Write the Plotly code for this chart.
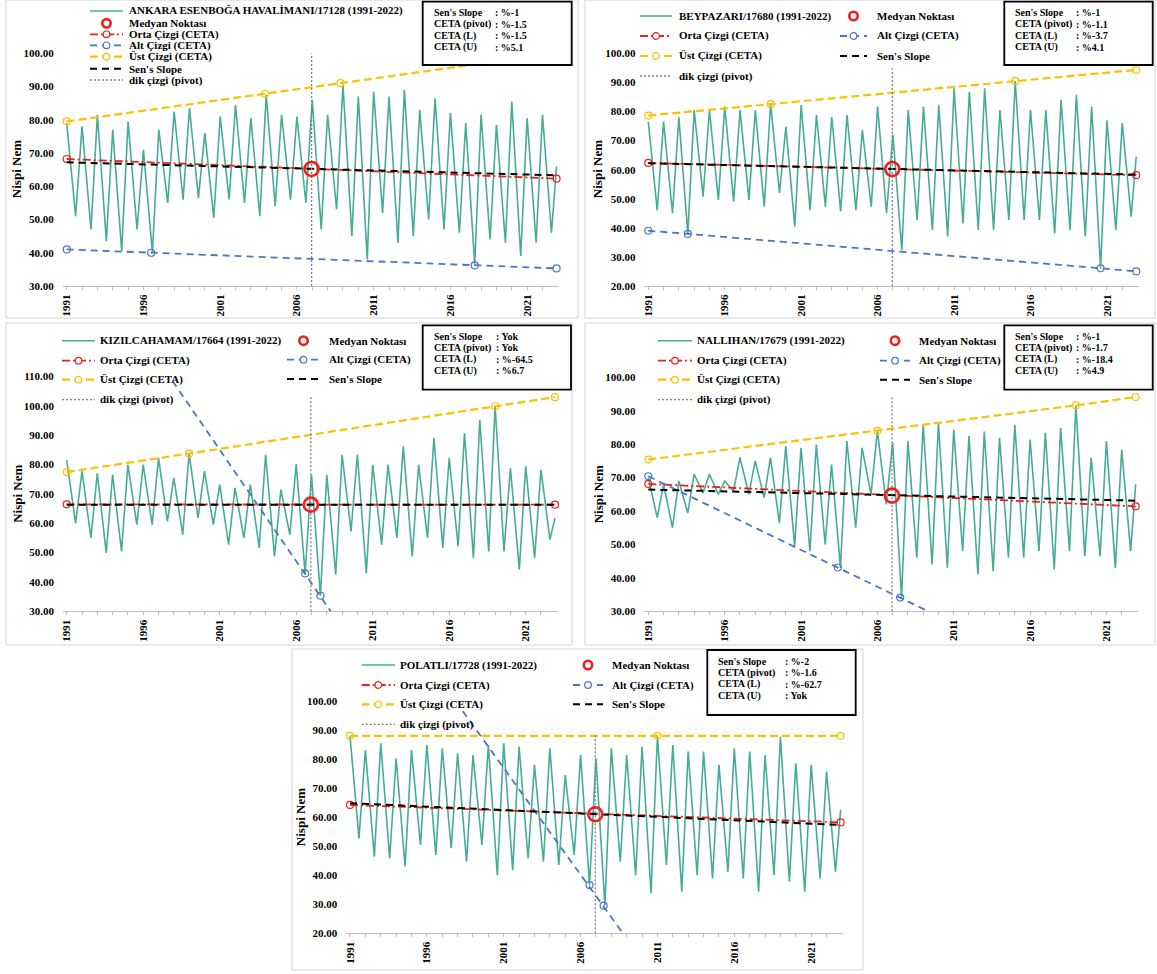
import plotly.graph_objects as go

W, H = 1157, 974
SERIF = "Liberation Serif"
TEAL = "#45ac97"
RED = "#f21d1d"
BLUE = "#4a76c6"
GOLD = "#ffc000"
BLACK = "#000000"
GREY = "#808080"
FRAME = "#d4d4d4"

# ========== DATA ==========
years = list(range(1991, 2023))
label_years = [1991, 1996, 2001, 2006, 2011, 2016, 2021]
pivot = 191.5        # month index of the pivot (middle of 384 months)
last_month = 383     # Dec 2022
peak_month = 0       # winter high (Jan)
low_month = 7        # summer low (Aug)

stat_labels = ["Sen's Slope", "CETA (pivot)", "CETA (L)", "CETA (U)"]

# ----- Ankara Esenboğa -----
ankara_name = "ANKARA ESENBOĞA HAVALİMANI/17128 (1991-2022)"
ankara_peaks = [79, 78, 81.5, 77, 79.5, 71, 77, 82.5, 83.5, 76, 81, 84.5, 80.5, 87.5, 81.5, 81,
                86, 81.5, 90.5, 87, 88.5, 87, 89, 83, 86.5, 82, 79, 81.5, 78.5, 85.5, 80.5, 81.5]
ankara_lows = [51, 47, 43.5, 40.5, 47, 40, 55, 56, 56.5, 50.5, 56, 55, 51, 54, 56, 55,
               47, 53, 45, 38, 52, 43, 45, 50, 47, 46, 36.3, 44, 43, 39, 43, 46]
ankara_last = 66
ankara_median = 65.2
ankara_orta = [68.2, 62.3]
ankara_sen = [67.2, 63.3]
ankara_alt_m = [0, 66, 319, 383]
ankara_alt_v = [41.0, 40.0, 36.2, 35.3]
ankara_alt_pm = [0, 66, 319, 383]
ankara_alt_pv = [41.0, 40.0, 36.2, 35.3]
ankara_ust_m = [0, 155, 214, 383]
ankara_ust_v = [79.5, 87.8, 91.0, 100.1]
ankara_dik = [30, 100]
ankara_stats = [": %-1", ": %-1.5", ": %-1.5", ": %5.1"]

# ----- Beypazarı -----
beypazari_name = "BEYPAZARI/17680 (1991-2022)"
beypazari_peaks = [76.5, 76.5, 78, 80.5, 80.5, 81.7, 80.5, 80.5, 82.5, 74.8, 82.2, 78.8, 78.2, 78.8, 73.6, 81.7,
                   72, 80.5, 81.7, 82.2, 88, 86.8, 88, 80.5, 90.5, 80.5, 80.5, 84, 85.7, 81.7, 77, 76]
beypazari_lows = [46, 45, 37.9, 50.7, 49.6, 49, 49.6, 47.3, 52, 40.4, 46.1, 47.3, 45.6, 46, 47.3, 45,
                  32.3, 42.7, 39.3, 37, 41.5, 39.3, 39.3, 42.7, 42.7, 42.7, 38.1, 39.3, 37, 26, 39.3, 43.8]
beypazari_last = 64.5
beypazari_median = 60.2
beypazari_orta = [62.3, 58.1]
beypazari_sen = [62.2, 58.3]
beypazari_alt_m = [0, 31, 355, 383]
beypazari_alt_v = [39.0, 37.9, 26.1, 25.0]
beypazari_alt_pm = [0, 31, 355, 383]
beypazari_alt_pv = [39.0, 37.9, 26.1, 25.0]
beypazari_ust_m = [0, 96, 288, 383]
beypazari_ust_v = [78.6, 82.5, 90.5, 94.3]
beypazari_dik = [20, 94.8]
beypazari_stats = [": %-1", ": %-1.1", ": %-3.7", ": %4.1"]

# ----- Kızılcahamam -----
kizil_name = "KIZILCAHAMAM/17664 (1991-2022)"
kizil_peaks = [81.5, 77.7, 77, 76.5, 79.9, 79.9, 82.2, 75.4, 83.7, 77.7, 73.1, 72, 73.1, 83.3, 71.4, 80,
               76.5, 76.5, 83.3, 83.3, 79.9, 79.9, 86.2, 79.9, 89, 82.2, 90.7, 95.2, 99.8, 78.8, 79.4, 78.2]
kizil_lows = [60, 55, 49.9, 50.4, 59.5, 59.5, 60.6, 56.1, 61.8, 59.5, 52.7, 55, 51.6, 48.7, 56.1, 42.9,
              35.3, 42.5, 57.2, 43, 52.7, 55, 48.7, 55, 51.6, 52.1, 48.2, 50.4, 50.4, 44.2, 48.2, 54.4]
kizil_last = 61.8
kizil_median = 66.3
kizil_orta = [66.4, 66.3]
kizil_sen = [66.3, 66.3]
kizil_alt_m = [83, 207]
kizil_alt_v = [108.4, 30.0]
kizil_alt_pm = [187, 199]
kizil_alt_pv = [42.9, 35.3]
kizil_ust_m = [0, 96, 336, 383]
kizil_ust_v = [77.4, 83.7, 99.8, 102.9]
kizil_dik = [30, 103.2]
kizil_stats = [": Yok", ": Yok", ": %-64.5", ": %6.7"]

# ----- Nallıhan -----
nallihan_name = "NALLIHAN/17679 (1991-2022)"
nallihan_peaks = [70, 68, 69, 71, 71, 69, 76, 75, 76, 79.4, 78.9, 79.9, 73.9, 80.9, 78.9, 84,
                  80.4, 80.9, 85.8, 86.3, 84.3, 82.4, 83.8, 81.9, 85.8, 81.4, 83.4, 84.8, 91.6, 75.9, 80.9, 78.4]
nallihan_lows = [58, 55, 59.4, 65.4, 65, 66, 65, 64, 56.4, 49.5, 48, 50, 43, 55, 65, 62,
                 34, 46, 44, 43, 48, 41, 42, 46, 46, 48, 42.5, 48, 46.5, 46.5, 43, 48]
nallihan_last = 68
nallihan_median = 64.6
nallihan_orta = [68.1, 61.4]
nallihan_sen = [66.4, 63.1]
nallihan_alt_m = [0, 220]
nallihan_alt_v = [70.4, 30.0]
nallihan_alt_pm = [0, 149, 198]
nallihan_alt_pv = [70.4, 43.1, 34.1]
nallihan_ust_m = [0, 180, 336, 383]
nallihan_ust_v = [75.4, 84.0, 91.6, 94.1]
nallihan_dik = [30, 94.3]
nallihan_stats = [": %-1", ": %-1.7", ": %-18.4", ": %4.9"]

# ----- Polatlı -----
polatli_name = "POLATLI/17728 (1991-2022)"
polatli_peaks = [88, 83.1, 85.4, 80.3, 83.1, 84.8, 83.7, 82, 81.4, 84.8, 85.4, 84.3, 78, 83.7, 74.5, 81.4,
                 80.3, 83.7, 81.4, 84.3, 88, 84.8, 82.6, 82.6, 78, 83.7, 82.6, 81.4, 87.7, 78.5, 78, 75.7]
polatli_lows = [52.7, 46.4, 45.8, 43, 50.4, 47, 49.3, 44.7, 50.4, 40, 41.8, 45.8, 44.7, 43.5, 47, 36.6,
                29.5, 44.7, 40, 33.8, 43.5, 34.3, 40, 38.9, 41.2, 38.9, 34.3, 40, 37.8, 34.3, 38.9, 41.2]
polatli_last = 62.5
polatli_median = 61.0
polatli_orta = [64.2, 58.2]
polatli_sen = [64.8, 57.3]
polatli_alt_m = [88, 213]
polatli_alt_v = [96.5, 20.0]
polatli_alt_pm = [187, 198]
polatli_alt_pv = [36.6, 29.5]
polatli_ust_m = [0, 240, 383]
polatli_ust_v = [88, 88, 88]
polatli_dik = [20, 88.3]
polatli_stats = [": %-2", ": %-1.6", ": %-62.7", ": Yok"]


def px_x(p):
    return p / W


def px_y(p):
    return 1 - p / H


def series_points(peaks, lows, last):
    xs, ys = [], []
    for k, (hi, lo) in enumerate(zip(peaks, lows)):
        xs += [12 * k + peak_month, 12 * k + low_month]
        ys += [hi, lo]
    xs.append(last_month)
    ys.append(last)
    return xs, ys


stations = [
    dict(name=ankara_name, peaks=ankara_peaks, lows=ankara_lows, last=ankara_last, median=ankara_median,
         orta=ankara_orta, sen=ankara_sen, alt_m=ankara_alt_m, alt_v=ankara_alt_v,
         alt_pm=ankara_alt_pm, alt_pv=ankara_alt_pv, ust_m=ankara_ust_m, ust_v=ankara_ust_v,
         dik=ankara_dik, stats=ankara_stats),
    dict(name=beypazari_name, peaks=beypazari_peaks, lows=beypazari_lows, last=beypazari_last,
         median=beypazari_median, orta=beypazari_orta, sen=beypazari_sen, alt_m=beypazari_alt_m,
         alt_v=beypazari_alt_v, alt_pm=beypazari_alt_pm, alt_pv=beypazari_alt_pv,
         ust_m=beypazari_ust_m, ust_v=beypazari_ust_v, dik=beypazari_dik, stats=beypazari_stats),
    dict(name=kizil_name, peaks=kizil_peaks, lows=kizil_lows, last=kizil_last, median=kizil_median,
         orta=kizil_orta, sen=kizil_sen, alt_m=kizil_alt_m, alt_v=kizil_alt_v,
         alt_pm=kizil_alt_pm, alt_pv=kizil_alt_pv, ust_m=kizil_ust_m, ust_v=kizil_ust_v,
         dik=kizil_dik, stats=kizil_stats),
    dict(name=nallihan_name, peaks=nallihan_peaks, lows=nallihan_lows, last=nallihan_last,
         median=nallihan_median, orta=nallihan_orta, sen=nallihan_sen, alt_m=nallihan_alt_m,
         alt_v=nallihan_alt_v, alt_pm=nallihan_alt_pm, alt_pv=nallihan_alt_pv,
         ust_m=nallihan_ust_m, ust_v=nallihan_ust_v, dik=nallihan_dik, stats=nallihan_stats),
    dict(name=polatli_name, peaks=polatli_peaks, lows=polatli_lows, last=polatli_last,
         median=polatli_median, orta=polatli_orta, sen=polatli_sen, alt_m=polatli_alt_m,
         alt_v=polatli_alt_v, alt_pm=polatli_alt_pm, alt_pv=polatli_alt_pv,
         ust_m=polatli_ust_m, ust_v=polatli_ust_v, dik=polatli_dik, stats=polatli_stats),
]

# ========== LAYOUT GEOMETRY (pixels) ==========
# m0: pixel of first month, ppm: pixels per month, top/bot: pixels of y range ends
GEO = [
    dict(m0=66.7, ppm=1.279, top=53.3, bot=286, yr=(30, 100), frame=(6, 0, 578, 318),
         box=(422.7, 1.7, 571.7, 65), colon=70.6, title_x=16.5),
    dict(m0=648.3, ppm=1.274, top=53.3, bot=286, yr=(20, 100), frame=(585, 0, 1155, 318),
         box=(1004.3, 1.7, 1152.7, 65), colon=69.7, title_x=597.5),
    dict(m0=66.7, ppm=1.275, top=376.3, bot=611.3, yr=(30, 110), frame=(6, 323, 572, 645),
         box=(422.7, 325.3, 571, 389.7), colon=71.3, title_x=18),
    dict(m0=648.3, ppm=1.2726, top=377.3, bot=611.3, yr=(30, 100), frame=(585, 323, 1155, 645),
         box=(1004.3, 325.3, 1152.7, 389.7), colon=69.5, title_x=598),
    dict(m0=350, ppm=1.281, top=701, bot=933.3, yr=(20, 100), frame=(292, 649, 863, 970),
         box=(707.3, 650, 855.7, 715), colon=76, title_x=300),
]

LEG_TEXT = {
    "median": "Medyan Noktası", "orta": "Orta Çizgi (CETA)", "alt": "Alt Çizgi (CETA)",
    "ust": "Üst Çizgi (CETA)", "sen": "Sen's Slope", "dik": "dik çizgi (pivot)",
}


def two_col(c1, c2, rows1, rows2):
    out = []
    for kind, y in zip(["series", "orta", "ust", "dik"], rows1):
        out.append((kind,) + c1 + (y,))
    for kind, y in zip(["median", "alt", "sen"], rows2):
        out.append((kind,) + c2 + (y,))
    return out


LEGENDS = [
    [(k, 90, 123, 126.7, y) for k, y in zip(["series", "median", "orta", "alt", "ust", "sen", "dik"],
                                            [11, 23.3, 34.3, 45.3, 56.7, 68.7, 80])],
    two_col((640, 672, 676.7), (840, 867, 875), [16, 36, 56, 76], [16, 36, 56]),
    two_col((62, 95, 98.3), (287, 320, 326.7), [340.7, 360.7, 379.7, 399.7], [340.7, 359.7, 379]),
    two_col((658, 692, 695), (880, 910, 916.7), [340.7, 360.7, 379.7, 399.7], [340.7, 360.7, 379.7]),
    two_col((361.7, 395, 398.3), (573, 603, 610), [665, 685, 704.3, 724.3], [665, 685, 704.3]),
]

STY = {
    "series": dict(color=TEAL, width=1.6),
    "orta": dict(color=RED, width=1.8, dash="8px,3px,2px,3px"),
    "alt": dict(color=BLUE, width=1.8, dash="7px,5px"),
    "ust": dict(color=GOLD, width=2.2, dash="8px,4px"),
    "sen": dict(color=BLACK, width=2, dash="7px,5px"),
    "dik": dict(color=GREY, width=1.3, dash="2px,2px"),
}
MARK_COLOR = {"orta": RED, "alt": BLUE, "ust": GOLD}

fig = go.Figure()
shapes, annotations = [], []
tick_vals = [12 * (y - years[0]) for y in years]
tick_text = [f"<b>{y}</b>" if y in label_years else "" for y in years]

for i, (st, g) in enumerate(zip(stations, GEO), 1):
    sfx = "" if i == 1 else str(i)
    xa, ya = "x" + sfx, "y" + sfx
    common = dict(xaxis=xa, yaxis=ya, showlegend=False, hoverinfo="skip")
    open_mark = dict(symbol="circle-open", size=7, line=dict(width=1.2))

    sx, sy = series_points(st["peaks"], st["lows"], st["last"])
    fig.add_trace(go.Scatter(x=sx, y=sy, mode="lines", line=STY["series"], **common))
    fig.add_trace(go.Scatter(x=[0, last_month], y=st["orta"], mode="lines+markers", line=STY["orta"],
                             marker=dict(open_mark, color=RED), cliponaxis=False, **common))
    fig.add_trace(go.Scatter(x=st["alt_m"], y=st["alt_v"], mode="lines", line=STY["alt"], **common))
    fig.add_trace(go.Scatter(x=st["alt_pm"], y=st["alt_pv"], mode="markers",
                             marker=dict(open_mark, color=BLUE), cliponaxis=False, **common))
    fig.add_trace(go.Scatter(x=st["ust_m"], y=st["ust_v"], mode="lines+markers", line=STY["ust"],
                             marker=dict(open_mark, color=GOLD), cliponaxis=False, **common))
    fig.add_trace(go.Scatter(x=[0, last_month], y=st["sen"], mode="lines", line=STY["sen"], **common))
    fig.add_trace(go.Scatter(x=[pivot, pivot], y=st["dik"], mode="lines", line=STY["dik"], **common))
    fig.add_trace(go.Scatter(x=[pivot], y=[st["median"]], mode="markers",
                             marker=dict(symbol="circle-open", size=14, color=RED, line=dict(width=2.6)),
                             cliponaxis=False, **common))

    x_lo = g["m0"] - 3 * g["ppm"]
    x_hi = g["m0"] + 385 * g["ppm"]
    fig.layout["xaxis" + sfx] = dict(
        domain=[px_x(x_lo), px_x(x_hi)], range=[-3, 385], anchor=ya,
        tickmode="array", tickvals=tick_vals, ticktext=tick_text, tickangle=-90,
        ticks="outside", ticklen=3, tickcolor="#bfbfbf", showline=True, linecolor="#bfbfbf",
        linewidth=1, showgrid=False, zeroline=False, fixedrange=True,
        tickfont=dict(family=SERIF, size=11, color="black"))
    fig.layout["yaxis" + sfx] = dict(
        domain=[px_y(g["bot"]), px_y(g["top"])], range=list(g["yr"]), anchor=xa,
        tick0=0, dtick=10, tickformat=".2f", ticks="", ticklabelstandoff=8,
        showline=False, showgrid=False, zeroline=False, fixedrange=True,
        tickfont=dict(family=SERIF, size=11, color="black", weight="bold"))

    # panel frame
    fx0, fy0, fx1, fy1 = g["frame"]
    shapes.append(dict(type="rect", xref="paper", yref="paper", x0=px_x(fx0), x1=px_x(fx1),
                       y0=px_y(fy1), y1=px_y(fy0), line=dict(color=FRAME, width=1), layer="below"))

    # axis title
    annotations.append(dict(text="<b>Nispi Nem</b>", x=px_x(g["title_x"]), y=px_y((g["top"] + g["bot"]) / 2),
                            xref="paper", yref="paper", textangle=-90, showarrow=False,
                            xanchor="center", yanchor="middle", font=dict(family=SERIF, size=13, color="black")))

    # legend
    for kind, sx0, sx1, tx, ry in LEGENDS[i - 1]:
        cx = (sx0 + sx1) / 2
        if kind != "median":
            shapes.append(dict(type="line", xref="paper", yref="paper", x0=px_x(sx0), x1=px_x(sx1),
                               y0=px_y(ry), y1=px_y(ry), line=STY[kind], layer="above"))
        if kind in MARK_COLOR:
            r = 3.3
            shapes.append(dict(type="circle", xref="paper", yref="paper", x0=px_x(cx - r), x1=px_x(cx + r),
                               y0=px_y(ry + r), y1=px_y(ry - r), fillcolor="white",
                               line=dict(color=MARK_COLOR[kind], width=1.2), layer="above"))
        if kind == "median":
            r = 4.2
            shapes.append(dict(type="circle", xref="paper", yref="paper", x0=px_x(cx - r), x1=px_x(cx + r),
                               y0=px_y(ry + r), y1=px_y(ry - r),
                               line=dict(color=RED, width=2.6), layer="above"))
        label = st["name"] if kind == "series" else LEG_TEXT[kind]
        annotations.append(dict(text=f"<b>{label}</b>", x=px_x(tx), y=px_y(ry), xref="paper", yref="paper",
                                showarrow=False, xanchor="left", yanchor="middle",
                                font=dict(family=SERIF, size=11, color="black")))

    # statistics box
    bx0, by0, bx1, by1 = g["box"]
    shapes.append(dict(type="rect", xref="paper", yref="paper", x0=px_x(bx0), x1=px_x(bx1),
                       y0=px_y(by1), y1=px_y(by0), fillcolor="white",
                       line=dict(color="black", width=1.8), layer="above"))
    for lab, val, dy in zip(stat_labels, st["stats"], [11, 22.5, 34, 45.5]):
        annotations.append(dict(text=f"<b>{lab}</b>", x=px_x(bx0 + 9), y=px_y(by0 + dy),
                                xref="paper", yref="paper", showarrow=False, xanchor="left", yanchor="middle",
                                font=dict(family=SERIF, size=10, color="black")))
        annotations.append(dict(text=f"<b>{val}</b>", x=px_x(bx0 + g["colon"]), y=px_y(by0 + dy),
                                xref="paper", yref="paper", showarrow=False, xanchor="left", yanchor="middle",
                                font=dict(family=SERIF, size=10, color="black")))

fig.update_layout(
    width=W, height=H, margin=dict(l=0, r=0, t=0, b=0),
    template="none", paper_bgcolor="white", plot_bgcolor="rgba(0,0,0,0)",
    hovermode=False, shapes=shapes, annotations=annotations,
)

# the page's default body margin would push the figure 8px right/down
fig.write_html("out.html", config={"displayModeBar": False},
               post_script="document.body.style.margin='0';document.body.style.overflow='hidden';")
